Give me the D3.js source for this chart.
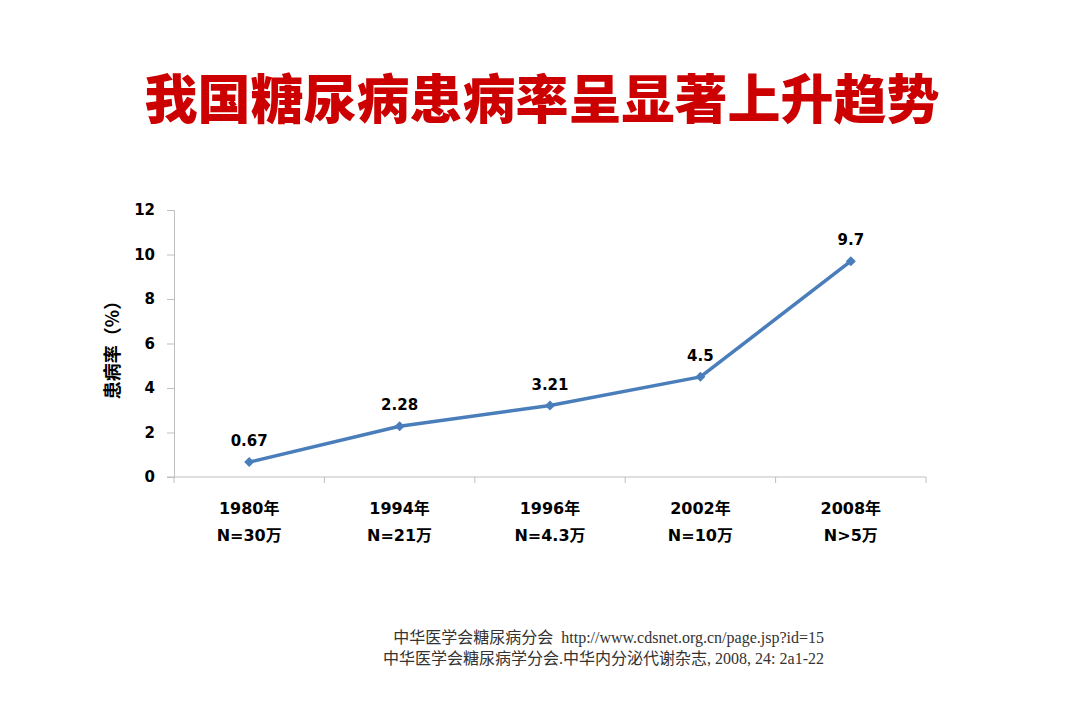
<!DOCTYPE html>
<meta charset="utf-8">
<script src="https://d3js.org/d3.v7.min.js"></script>
<style>
  body { margin: 0; background: #fff; }
</style>
<div id="my_dataviz"></div>
<script>

// data
var years = ["1980年", "1994年", "1996年", "2002年", "2008年"];
var samples = ["N=30万", "N=21万", "N=4.3万", "N=10万", "N>5万"];
var rates = [0.67, 2.28, 3.21, 4.5, 9.7];
var yTicks = [0, 2, 4, 6, 8, 10, 12];
var sources = [
  "中华医学会糖尿病分会  http://www.cdsnet.org.cn/page.jsp?id=15",
  "中华医学会糖尿病学分会.中华内分泌代谢杂志, 2008, 24: 2a1-22"
];

var W = 1080, H = 720;
var margin = {top: 210, right: 154, bottom: 243, left: 174},
    width = W - margin.left - margin.right,
    height = H - margin.top - margin.bottom;

var labelFont = "'DejaVu Sans', 'Noto Sans CJK SC', sans-serif";

var svg = d3.select("#my_dataviz")
  .append("svg")
    .attr("width", W)
    .attr("height", H);

// title
svg.append("text")
  .attr("x", 542)
  .attr("y", 119)
  .attr("text-anchor", "middle")
  .style("font-family", "'Noto Sans CJK SC', sans-serif")
  .style("font-weight", 900)
  .style("font-size", "53px")
  .style("fill", "#cc0000")
  .text("我国糖尿病患病率呈显著上升趋势");

var g = svg.append("g")
  .attr("transform", "translate(" + margin.left + "," + margin.top + ")");

var x = d3.scaleBand()
  .domain(years)
  .range([0, width]);

var y = d3.scaleLinear()
  .domain([0, 12])
  .range([height, 0]);

// Y axis
var yAxis = g.append("g")
  .call(d3.axisLeft(y).tickValues(yTicks).tickSize(7).tickPadding(12));
yAxis.select(".domain").attr("stroke", "#bfbfbf");
yAxis.selectAll(".tick line").attr("stroke", "#bfbfbf");
yAxis.selectAll(".tick text")
  .style("font-family", labelFont)
  .style("font-weight", "bold")
  .style("font-size", "15px")
  .style("fill", "#000");

// X axis
var xAxis = g.append("g")
  .attr("transform", "translate(0," + height + ")")
  .call(d3.axisBottom(x).tickSize(0).tickFormat(""));
xAxis.select(".domain").attr("stroke", "#bfbfbf").attr("d", "M-7,0H" + width);
xAxis.selectAll(".tick").remove();

// category boundaries ticks
var bounds = years.map(function(d) { return x(d); }).concat([width]);
xAxis.selectAll(".bound")
  .data(bounds)
  .enter().append("line")
    .attr("x1", function(d) { return d; })
    .attr("x2", function(d) { return d; })
    .attr("y1", 0)
    .attr("y2", 6)
    .attr("stroke", "#bfbfbf");

// category labels
var cats = g.append("g")
  .attr("transform", "translate(0," + height + ")")
  .selectAll("text")
  .data(years)
  .enter().append("text")
    .attr("x", function(d) { return x(d) + x.bandwidth() / 2; })
    .attr("text-anchor", "middle")
    .style("font-family", labelFont)
    .style("font-weight", "bold")
    .style("font-size", "16px")
    .style("fill", "#000");
cats.append("tspan")
  .attr("x", function(d) { return x(d) + x.bandwidth() / 2; })
  .attr("y", 37)
  .text(function(d) { return d; });
cats.append("tspan")
  .attr("x", function(d) { return x(d) + x.bandwidth() / 2; })
  .attr("y", 64)
  .text(function(d, i) { return samples[i]; });

// y axis title
svg.append("text")
  .attr("transform", "translate(119," + (margin.top + height / 2 + 2) + ") rotate(-90)")
  .attr("text-anchor", "middle")
  .style("font-family", "'Noto Sans CJK SC', sans-serif")
  .style("font-weight", "bold")
  .style("font-size", "18px")
  .text("患病率（%）");

// line
var line = d3.line()
  .x(function(d, i) { return x(years[i]) + x.bandwidth() / 2; })
  .y(function(d) { return y(d); });

g.append("path")
  .datum(rates)
  .attr("fill", "none")
  .attr("stroke", "#4a7ebb")
  .attr("stroke-width", 3.5)
  .attr("stroke-linejoin", "round")
  .attr("d", line);

// diamond markers (rotated squares)
g.selectAll(".marker")
  .data(rates)
  .enter().append("path")
    .attr("class", "marker")
    .attr("transform", function(d, i) {
      return "translate(" + (x(years[i]) + x.bandwidth() / 2) + "," + y(d) + ") rotate(45)";
    })
    .attr("d", d3.symbol().type(d3.symbolSquare).size(50))
    .attr("fill", "#4a7ebb");

// value labels
g.selectAll(".val")
  .data(rates)
  .enter().append("text")
    .attr("x", function(d, i) { return x(years[i]) + x.bandwidth() / 2; })
    .attr("y", function(d) { return y(d) - 16; })
    .attr("text-anchor", "middle")
    .style("font-family", labelFont)
    .style("font-weight", "bold")
    .style("font-size", "15px")
    .style("fill", "#000")
    .text(function(d) { return d; });

// source notes
svg.selectAll(".src")
  .data(sources)
  .enter().append("text")
    .attr("x", 824)
    .attr("y", function(d, i) { return 643 + i * 21; })
    .attr("text-anchor", "end")
    .style("white-space", "pre")
    .style("font-family", "'Liberation Serif', 'Noto Sans CJK SC', serif")
    .style("font-size", "16px")
    .style("fill", "#333")
    .text(function(d) { return d; });

</script>
